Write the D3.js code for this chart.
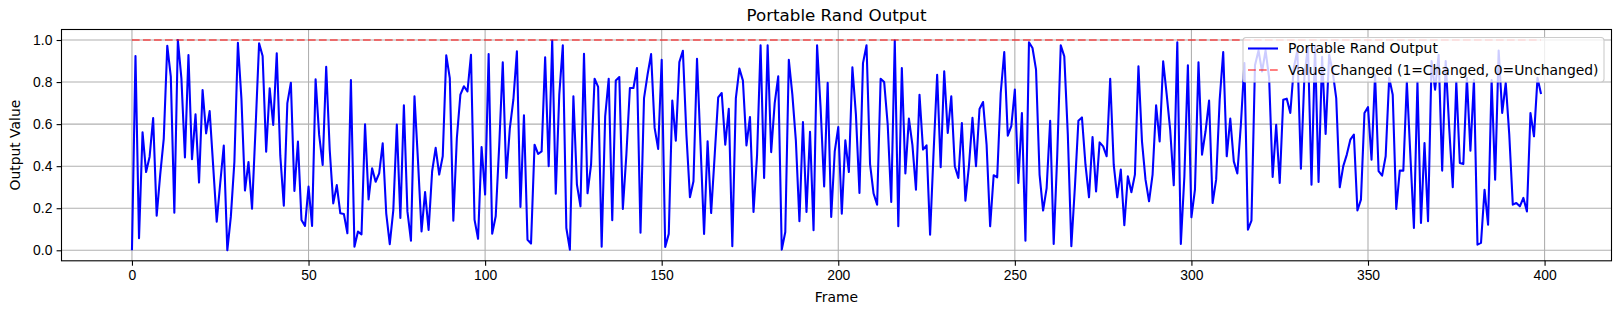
<!DOCTYPE html>
<html>
<head>
<meta charset="utf-8">
<script src="https://cdn.jsdelivr.net/npm/d3@7"></script>
<style>
  body { margin: 0; background: #fff; }
  svg { display: block; font-family: "DejaVu Sans", sans-serif; }
  .axis text { font-size: 13.9px; fill: #000; }
  .axis line { stroke: #000; stroke-width: 1.1px; }
  .grid line { stroke: #b0b0b0; stroke-width: 1.1px; }
</style>
</head>
<body>
<div id="graphic"></div>
<script>
// output of the rand function, one value per frame
const outputValues = [
  0.0, 0.924, 0.057, 0.561, 0.372, 0.445, 0.629, 0.165, 0.36, 0.53,
  0.973, 0.826, 0.179, 1.0, 0.818, 0.442, 0.929, 0.433, 0.647, 0.322,
  0.762, 0.556, 0.662, 0.40, 0.136, 0.32, 0.498, 0.0, 0.16, 0.42,
  0.987, 0.72, 0.284, 0.42, 0.198, 0.58, 0.984, 0.924, 0.469, 0.77,
  0.596, 0.937, 0.45, 0.212, 0.70, 0.797, 0.282, 0.517, 0.144, 0.116,
  0.303, 0.116, 0.813, 0.55, 0.406, 0.873, 0.477, 0.223, 0.31, 0.176,
  0.173, 0.081, 0.81, 0.017, 0.089, 0.076, 0.599, 0.242, 0.39, 0.326,
  0.366, 0.509, 0.176, 0.029, 0.19, 0.598, 0.154, 0.69, 0.185, 0.046,
  0.732, 0.423, 0.09, 0.277, 0.097, 0.376, 0.487, 0.36, 0.447, 0.927,
  0.819, 0.141, 0.534, 0.74, 0.78, 0.756, 0.93, 0.146, 0.055, 0.491,
  0.265, 0.933, 0.079, 0.162, 0.50, 0.894, 0.344, 0.58, 0.716, 0.946,
  0.206, 0.642, 0.05, 0.032, 0.502, 0.458, 0.47, 0.918, 0.40, 0.997,
  0.269, 0.74, 0.975, 0.106, 0.003, 0.732, 0.312, 0.209, 0.935, 0.271,
  0.407, 0.816, 0.777, 0.017, 0.637, 0.816, 0.143, 0.807, 0.824, 0.197,
  0.455, 0.772, 0.772, 0.867, 0.084, 0.724, 0.835, 0.933, 0.582, 0.482,
  0.906, 0.016, 0.078, 0.712, 0.521, 0.895, 0.949, 0.55, 0.252, 0.328,
  0.911, 0.50, 0.078, 0.518, 0.177, 0.45, 0.727, 0.748, 0.502, 0.673,
  0.019, 0.724, 0.864, 0.807, 0.499, 0.634, 0.182, 0.45, 0.975, 0.344,
  0.975, 0.467, 0.70, 0.827, 0.003, 0.087, 0.906, 0.74, 0.52, 0.138,
  0.61, 0.182, 0.563, 0.095, 0.975, 0.677, 0.304, 0.796, 0.158, 0.47,
  0.586, 0.174, 0.523, 0.372, 0.87, 0.645, 0.273, 0.89, 0.975, 0.41,
  0.27, 0.217, 0.816, 0.80, 0.597, 0.23, 0.997, 0.114, 0.867, 0.365,
  0.626, 0.50, 0.288, 0.74, 0.479, 0.499, 0.074, 0.47, 0.835, 0.395,
  0.851, 0.558, 0.732, 0.40, 0.344, 0.605, 0.236, 0.40, 0.63, 0.40,
  0.672, 0.705, 0.502, 0.114, 0.357, 0.347, 0.748, 0.943, 0.545, 0.59,
  0.764, 0.32, 0.653, 0.046, 0.989, 0.962, 0.859, 0.36, 0.189, 0.296,
  0.616, 0.03, 0.45, 0.975, 0.922, 0.55, 0.019, 0.30, 0.616, 0.632,
  0.407, 0.252, 0.539, 0.28, 0.513, 0.494, 0.447, 0.816, 0.407, 0.252,
  0.384, 0.119, 0.352, 0.276, 0.36, 0.875, 0.518, 0.336, 0.233, 0.36,
  0.689, 0.518, 0.899, 0.74, 0.57, 0.309, 0.989, 0.03, 0.35, 0.88,
  0.157, 0.288, 0.894, 0.455, 0.566, 0.712, 0.225, 0.336, 0.716, 0.943,
  0.447, 0.626, 0.423, 0.365, 0.597, 0.89, 0.098, 0.141, 0.88, 0.95,
  0.85, 0.95, 0.82, 0.349, 0.597, 0.32, 0.716, 0.721, 0.653, 0.87,
  0.95, 0.388, 0.83, 0.97, 0.312, 0.97, 0.325, 0.92, 0.553, 0.93,
  0.85, 0.724, 0.30, 0.40, 0.455, 0.526, 0.55, 0.189, 0.241, 0.653,
  0.681, 0.431, 0.835, 0.376, 0.355, 0.447, 0.82, 0.74, 0.197, 0.379,
  0.379, 0.80, 0.45, 0.106, 0.80, 0.13, 0.51, 0.138, 0.90, 0.764,
  0.93, 0.379, 0.90, 0.58, 0.30, 0.80, 0.415, 0.41, 0.82, 0.474,
  0.81, 0.027, 0.035, 0.288, 0.122, 0.81, 0.336, 0.95, 0.653, 0.796,
  0.55, 0.217, 0.225, 0.209, 0.249, 0.185, 0.653, 0.542, 0.82, 0.743
];

// 1 = value changed since previous frame (it changed on every frame)
const changedFlags = [
  1,1,1,1,1,1,1,1,1,1,1,1,1,1,1,1,1,1,1,1,1,1,1,1,1,1,1,1,1,1,1,1,1,1,1,1,1,1,1,1,
  1,1,1,1,1,1,1,1,1,1,1,1,1,1,1,1,1,1,1,1,1,1,1,1,1,1,1,1,1,1,1,1,1,1,1,1,1,1,1,1,
  1,1,1,1,1,1,1,1,1,1,1,1,1,1,1,1,1,1,1,1,1,1,1,1,1,1,1,1,1,1,1,1,1,1,1,1,1,1,1,1,
  1,1,1,1,1,1,1,1,1,1,1,1,1,1,1,1,1,1,1,1,1,1,1,1,1,1,1,1,1,1,1,1,1,1,1,1,1,1,1,1,
  1,1,1,1,1,1,1,1,1,1,1,1,1,1,1,1,1,1,1,1,1,1,1,1,1,1,1,1,1,1,1,1,1,1,1,1,1,1,1,1,
  1,1,1,1,1,1,1,1,1,1,1,1,1,1,1,1,1,1,1,1,1,1,1,1,1,1,1,1,1,1,1,1,1,1,1,1,1,1,1,1,
  1,1,1,1,1,1,1,1,1,1,1,1,1,1,1,1,1,1,1,1,1,1,1,1,1,1,1,1,1,1,1,1,1,1,1,1,1,1,1,1,
  1,1,1,1,1,1,1,1,1,1,1,1,1,1,1,1,1,1,1,1,1,1,1,1,1,1,1,1,1,1,1,1,1,1,1,1,1,1,1,1,
  1,1,1,1,1,1,1,1,1,1,1,1,1,1,1,1,1,1,1,1,1,1,1,1,1,1,1,1,1,1,1,1,1,1,1,1,1,1,1,1,
  1,1,1,1,1,1,1,1,1,1,1,1,1,1,1,1,1,1,1,1,1,1,1,1,1,1,1,1,1,1,1,1,1,1,1,1,1,1,1,1
];

const xTicks = [0, 50, 100, 150, 200, 250, 300, 350, 400];
const yTicks = [0.0, 0.2, 0.4, 0.6, 0.8, 1.0];
const seriesNames = ["Portable Rand Output", "Value Changed (1=Changed, 0=Unchanged)"];

const randChart = {
  el: "#graphic",
  outerWidth: 1621,
  outerHeight: 314,
  margin: { left: 61.5, right: 9.5, top: 29.5, bottom: 53.2 },
  parameters(){
    this.width = this.outerWidth - this.margin.left - this.margin.right;
    this.height = this.outerHeight - this.margin.top - this.margin.bottom;
  },
  createScales(){
    const n = outputValues.length - 1;
    const padX = n * 0.05;
    this.xScale = d3.scaleLinear()
      .domain([-padX, n + padX])
      .range([0, this.width]);
    this.yScale = d3.scaleLinear()
      .domain([-0.05, 1.05])
      .range([this.height, 0]);
  },
  drawPlot(){
    this.svg = d3.select(this.el)
      .append("svg")
      .attr("width", this.outerWidth)
      .attr("height", this.outerHeight);
    this.plot = this.svg.append("g")
      .attr("transform", `translate(${this.margin.left}, ${this.margin.top})`);
  },
  drawGrid(){
    const grid = this.plot.append("g").attr("class", "grid");
    grid.selectAll(".gx")
      .data(xTicks)
      .enter().append("line")
      .attr("x1", d => this.xScale(d)).attr("x2", d => this.xScale(d))
      .attr("y1", 0).attr("y2", this.height);
    grid.selectAll(".gy")
      .data(yTicks)
      .enter().append("line")
      .attr("y1", d => this.yScale(d)).attr("y2", d => this.yScale(d))
      .attr("x1", 0).attr("x2", this.width);
  },
  drawData(){
    const that = this;
    const line = d3.line()
      .x((d, i) => that.xScale(i))
      .y(d => that.yScale(d));

    this.plot.append("path")
      .datum(outputValues)
      .attr("fill", "none")
      .attr("stroke", "#0000ff")
      .attr("stroke-width", 2.08)
      .attr("stroke-linejoin", "round")
      .attr("d", line);

    this.plot.append("path")
      .datum(changedFlags)
      .attr("fill", "none")
      .attr("stroke", "#ff0000")
      .attr("stroke-opacity", 0.5)
      .attr("stroke-width", 2.08)
      .attr("stroke-dasharray", "7.7,3.3")
      .attr("d", line);
  },
  drawAxes(){
    const xAxis = d3.axisBottom(this.xScale)
      .tickValues(xTicks)
      .tickFormat(d3.format("d"))
      .tickSize(4.9)
      .tickPadding(4.2);
    const yAxis = d3.axisLeft(this.yScale)
      .tickValues(yTicks)
      .tickFormat(d3.format(".1f"))
      .tickSize(4.9)
      .tickPadding(4.2);

    const gx = this.plot.append("g")
      .attr("class", "axis xaxis")
      .attr("transform", `translate(0, ${this.height})`)
      .call(xAxis);
    const gy = this.plot.append("g")
      .attr("class", "axis yaxis")
      .call(yAxis);
    [gx, gy].forEach(g => {
      g.select(".domain").remove();
      g.selectAll("text").attr("font-family", null).attr("font-size", null);
    });

    // spines
    this.plot.append("rect")
      .attr("width", this.width)
      .attr("height", this.height)
      .attr("fill", "none")
      .attr("stroke", "#000")
      .attr("stroke-width", 1.1);

    this.svg.append("text")
      .attr("x", this.margin.left + this.width / 2)
      .attr("y", 21)
      .attr("text-anchor", "middle")
      .style("font-size", "16.7px")
      .text("Portable Rand Output");

    this.svg.append("text")
      .attr("x", this.margin.left + this.width / 2)
      .attr("y", 301.5)
      .attr("text-anchor", "middle")
      .style("font-size", "13.9px")
      .text("Frame");

    this.svg.append("text")
      .attr("transform", `translate(20, ${this.margin.top + this.height / 2}) rotate(-90)`)
      .attr("text-anchor", "middle")
      .style("font-size", "13.9px")
      .text("Output Value");
  },
  drawLegend(){
    const lg = this.svg.append("g")
      .attr("transform", "translate(1243, 37.5)");
    lg.append("rect")
      .attr("width", 361)
      .attr("height", 44.5)
      .attr("rx", 3)
      .attr("fill", "#fff")
      .attr("fill-opacity", 0.8)
      .attr("stroke", "#cccccc")
      .attr("stroke-width", 1.1);
    const rows = lg.selectAll(".entry")
      .data(seriesNames)
      .enter().append("g")
      .attr("transform", (d, i) => `translate(0, ${11 + i * 21.5})`);
    rows.append("line")
      .attr("x1", 5).attr("x2", 35)
      .attr("stroke", (d, i) => i === 0 ? "#0000ff" : "#ff0000")
      .attr("stroke-opacity", (d, i) => i === 0 ? 1 : 0.5)
      .attr("stroke-width", 2.08)
      .attr("stroke-dasharray", (d, i) => i === 0 ? null : "7.7,3.3");
    rows.append("text")
      .attr("x", 45)
      .attr("dy", "0.35em")
      .style("font-size", "13.9px")
      .text(d => d);
  },
  draw(){
    this.parameters();
    this.createScales();
    this.drawPlot();
    this.drawGrid();
    this.drawData();
    this.drawAxes();
    this.drawLegend();
  }
};

randChart.draw();
</script>
</body>
</html>
